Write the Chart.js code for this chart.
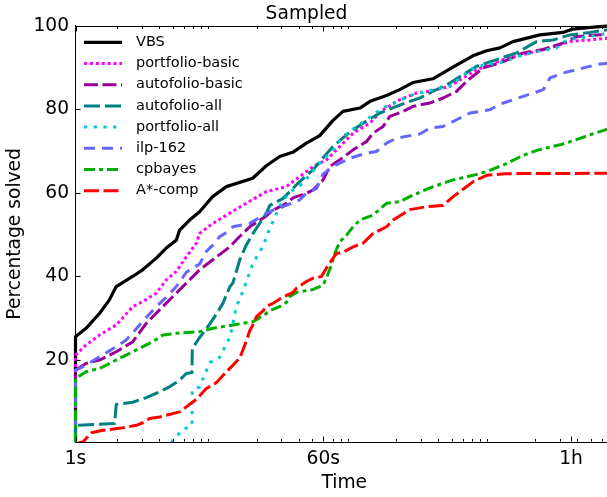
<!DOCTYPE html>
<html><head><meta charset="utf-8">
<script src="https://cdn.jsdelivr.net/npm/chart.js@4.4.1/dist/chart.umd.min.js"></script>
<style>
html,body{margin:0;padding:0;background:#fff;overflow:hidden;}
#wrap{width:613px;height:497px;position:relative;}
</style></head><body>
<div id="wrap"><canvas id="c" width="613" height="497"></canvas></div>
<script>
// ---- data (time in seconds, percentage solved) ----
const seriesNames = ['VBS','portfolio-basic','autofolio-basic','autofolio-all','portfolio-all','ilp-162','cpbayes','A*-comp'];

const vbsTime = [1,1,1.19,1.49,1.75,1.96,2.57,3.03,3.8,4.48,5.29,5.59,6.59,7.78,9.64,12.1,18.7,23.4,29.2,36.2,45.4,56.6,70.2,83,110,130,170.6,212,264,367,511,711,892,1112,1378,2154,3152,3700,5500,7200];
const vbsPct  = [0,25.6,27.6,31.2,34.4,37.6,40,41.6,44.4,46.8,48.7,51.1,53.5,55.5,59.1,61.5,63.5,66.5,68.7,69.7,71.9,73.7,77.3,79.5,80.3,81.9,83.3,84.7,86.4,87.3,90.1,92.8,94.0,94.7,96.2,97.8,98.4,99.2,99.7,100];

const pbTime = [1,1,1.19,1.49,1.96,2.58,3.04,3.8,4.48,5.29,6.24,7.37,7.78,9.67,12.7,16.8,23.4,32.6,40.6,50.7,63.2,78.8,98.2,129.4,161.3,212.6,280.3,349,486,756,1174,1635,2542,3539,4927,6494,7200];
const pbPct  = [0,21.2,23.6,26,28.4,32.8,34,36,39.2,41.2,44.7,48,50.3,52.7,55.1,57.5,60.3,61.5,63.9,66.3,67.9,71.1,74.3,76.7,79.9,82.3,83.9,84.3,85.5,89.5,91.9,93.1,94.7,96.2,96.6,97.0,97.0];

const abTime = [1,1,1.19,1.49,1.96,2.58,3.22,4.01,5,6.24,7.78,9.67,12.8,15,17.8,23.4,26.2,32.6,36.4,45.4,50.7,59.8,66.8,78.8,98.2,122.6,136.7,161.3,180.2,224.5,264.9,349,435,543,641,843,1174,1635,2275,3168,3954,5505,7200];
const abPct  = [0,17.6,19.2,20,22,24.4,28.8,32,35.2,38.4,41.6,44,47.1,49.5,51.9,54.5,55.9,57.5,58.8,59.9,60.7,63.1,66.3,67.9,70.3,72.3,74.3,75.9,78.3,79.5,80.7,81.5,82.7,84.3,86.7,89.9,91.4,93.5,94.3,95.9,97.4,97.8,98.0];

const aaTime = [1,1,1.91,1.96,2.57,3.22,4.01,4.73,5.59,6.24,6.85,6.89,7.78,9.18,10.25,11.4,12.8,13.5,15.1,16.8,18.8,23.4,24.8,30.9,40.6,50.7,56.6,70.5,88.1,115.9,152.8,201.3,250.8,296,349,486,606,756,1053,1465,2040,2685,3539,4927,6494,7200];
const aaPct  = [0,4.4,4.8,9.4,9.9,11,12.4,13.6,15.2,16.8,17,22.8,25.4,28.6,31,33.5,37.5,38.5,44,47.5,50.3,55.1,57,58.7,62.7,65.5,67.5,71.1,73.9,76.7,79.1,80.7,81.9,82.7,83.9,86.3,88.3,90.3,91.9,93.5,96.2,96.6,97.8,98.4,99.0,99.0];

const paTime = [1,4.9,5.0,5.9,6.78,6.85,6.89,7.78,9.18,10.8,12.8,13.5,14.3,15.9,18.8,22.2,24.8,27.7,30.9,36.4,42.9,53.6,70.5,83.2,103.9,122.6,152.8,201.3,264.9,349,486,641,756,1201,1465,2040,2841,3351,4927,6494,7200];
const paPct  = [0,0,0.8,3.4,4.2,4.4,12.8,13.6,19.4,20.6,25.4,28.8,32.8,36.5,43.2,47.3,51.5,55.1,58.3,60.7,62.3,66.3,70.3,73.5,75.9,77.5,79.9,81.9,83.5,84.5,85.5,88.7,90.3,91.4,92.6,93.8,94.7,96.6,97.4,98.2,98.3];

const ilTime = [1,1,1.19,1.49,1.96,2.31,2.73,3.22,3.8,4.48,5.29,6.24,7.78,8.69,9.67,10.8,12.1,13.5,17.8,23.4,26.2,30.9,40.6,45.4,53.6,59.8,70.5,78.8,93,122.6,144.6,170.6,201.3,250.8,296,349,435,543,677,942,1174,1635,2275,2542,3168,3954,5505,7200];
const ilPct  = [0,17.6,18.8,20.8,23.2,24.8,27.5,30.2,32.8,35,37.6,41,43,46,47.5,49.5,50.5,51.9,52.7,55.1,55.9,56.7,58.3,60,61,64.5,66.3,67.1,68.3,69.5,69.9,71.9,73.1,73.7,74.1,75.5,75.9,77.5,79.1,79.9,81.5,83.1,84.7,87.5,88.7,89.5,90.7,91.2];

const cpTime = [1,1,1.19,1.49,1.85,2.31,3.04,3.59,4.24,5.29,7.78,9.67,13.5,18.8,22.2,24.8,29.2,32.6,34.5,38.5,50.7,56.6,59.8,63.2,68.7,72.5,78.8,88.1,98.2,109.7,136.7,170.6,212.6,264.9,368.7,513,715,892,1201,1635,2154,3000,3737,4927,6494,7200];
const cpPct  = [0,15.6,17.2,18,19.6,21.2,23.2,24.4,26,26.4,26.8,27.6,28.4,29.2,30.6,31.8,32.8,33.8,35.2,36.2,36.9,37.6,38,39.6,42.8,45.5,48.3,49.9,51.9,53.5,54.7,57.5,57.9,59.5,61.5,63.1,64.2,65.1,66.8,69,70.4,71.5,72.5,73.9,75.2,75.3];

const acTime = [1,1.13,1.3,1.57,2.19,2.73,3.04,3.4,4.01,4.48,5.59,6.24,7.37,8.69,10.25,12.1,13.5,15.1,15.9,16.8,17.8,18.8,19.9,22.2,23.4,26.2,30.9,36.4,38.5,45.4,50.7,58.2,63.2,70.5,74.6,83.2,98.2,115.9,136.7,152.8,170.6,190.3,250.8,330.7,435,513,574,715,892,1201,7200];
const acPct  = [0,0.4,2.6,3.2,3.8,4.4,5,6,6.4,6.8,7.6,8.8,10.6,13.2,14.6,17.2,18.8,20.5,22.4,24.5,27,28.5,30.4,31.8,32.8,33.6,35.1,36.2,37.2,38.8,39.6,40,42,44.4,45.5,45.8,47.1,48,50.3,51.1,51.9,53.5,56,56.7,57,59.1,60.3,62.7,64.2,64.6,64.7];

// ---- axis ticks ----
const xTickValues = [1, 60, 3600];
const xTickLabels = ['1s', '60s', '1h'];
const xMinorTicks = [2,3,4,5,6,7,8,9,20,30,40,50,70,80,90,200,300,400,500,600,700,800,900,2000,3000,4000,5000,6000,7000];
const yTickValues = [20, 40, 60, 80, 100];

// ---- styles ----
const seriesTimes = [vbsTime, pbTime, abTime, aaTime, paTime, ilTime, cpTime, acTime];
const seriesPcts  = [vbsPct, pbPct, abPct, aaPct, paPct, ilPct, cpPct, acPct];
const colors = ['#000000','#ff00ff','#990099','#008080','#00cccc','#6666ff','#00b000','#ff0000'];
const dashes = [[], [3,2.9], [14,4.5], [16,5], [3.2,6.5], [11,7], [11,4,4,4], [15,4.5]];
const widths = [3.2, 3, 3, 3, 3, 3, 3, 3];

const FONT = 'DejaVu Sans';
Chart.defaults.font.family = FONT;
Chart.defaults.color = '#000';

const datasets = seriesNames.map((name, i) => ({
  label: name,
  data: seriesTimes[i].map((t, k) => ({x: t, y: seriesPcts[i][k]})),
  borderColor: colors[i],
  backgroundColor: colors[i],
  borderWidth: widths[i],
  borderDash: dashes[i],
  borderCapStyle: 'butt',
  borderJoinStyle: 'round',
  pointRadius: 0,
  tension: 0,
  fill: false,
  order: -i,
  clip: {left: 3, top: 3, right: 3, bottom: 0}
}));

const decor = {
  id: 'decor',
  afterDatasetsDraw(chart) {
    const {ctx, chartArea: a, scales: {x, y}} = chart;
    ctx.save();
    ctx.strokeStyle = '#000';
    ctx.lineWidth = 1;
    ctx.setLineDash([]);
    const top = Math.round(a.top) + 0.5;
    const bot = Math.round(a.bottom) - 0.5;
    const left = Math.round(a.left) - 0.5;
    // top spine
    ctx.beginPath();
    ctx.moveTo(a.left, top); ctx.lineTo(a.right, top);
    ctx.stroke();
    ctx.beginPath();
    const vtick = (v, len) => {
      const px = Math.round(x.getPixelForValue(v)) + 0.5;
      ctx.moveTo(px, bot); ctx.lineTo(px, bot - len);
      ctx.moveTo(px, top); ctx.lineTo(px, top + len);
    };
    xMinorTicks.forEach(v => vtick(v, 2.5));
    xTickValues.forEach(v => vtick(v, 5));
    yTickValues.forEach(v => {
      const py = Math.round(y.getPixelForValue(v)) + 0.5;
      ctx.moveTo(left, py); ctx.lineTo(left + 5, py);
    });
    ctx.stroke();
    ctx.restore();
  },
  afterDraw(chart) {
    const {ctx, chartArea: a} = chart;
    ctx.save();
    chart.data.datasets.forEach((ds, i) => {
      const yy = a.top + 16.6 + i * 21.2;
      ctx.beginPath();
      ctx.setLineDash(ds.borderDash);
      ctx.lineWidth = ds.borderWidth;
      ctx.lineCap = 'butt';
      ctx.strokeStyle = ds.borderColor;
      ctx.moveTo(a.left + 8.5, yy);
      ctx.lineTo(a.left + 46.5, yy);
      ctx.stroke();
      ctx.setLineDash([]);
      ctx.fillStyle = '#000';
      ctx.font = '14.5px "' + FONT + '"';
      ctx.textBaseline = 'middle';
      ctx.textAlign = 'left';
      ctx.fillText(ds.label, a.left + 60.5, yy);
    });
    ctx.restore();
  }
};

new Chart(document.getElementById('c'), {
  type: 'line',
  data: {datasets},
  options: {
    responsive: false,
    animation: false,
    devicePixelRatio: 1,
    layout: {padding: 0},
    plugins: {
      legend: {display: false},
      tooltip: {enabled: false},
      title: {
        display: true,
        text: 'Sampled',
        color: '#000',
        font: {family: FONT, size: 18.67, weight: 'normal'},
        padding: {top: 2.8, bottom: 0.5}
      }
    },
    scales: {
      x: {
        type: 'logarithmic',
        position: 'bottom',
        min: 1,
        max: 7200,
        afterBuildTicks: (s) => { s.ticks = xTickValues.map(v => ({value: v, major: true})); },
        afterFit: (s) => { s.height = 55; },
        grid: {display: true, drawOnChartArea: false, drawTicks: false},
        border: {display: true, color: '#000', width: 1},
        ticks: {
          autoSkip: false, maxRotation: 0, minRotation: 0,
          padding: 6,
          font: {family: FONT, size: 18.67},
          color: '#000',
          callback: (v, i) => xTickLabels[i]
        },
        title: {display: true, text: 'Time', color: '#000', font: {family: FONT, size: 18.67}, padding: {top: 0, bottom: 2.3}}
      },
      y: {
        type: 'linear',
        min: 0.4,
        max: 100,
        afterBuildTicks: (s) => { s.ticks = yTickValues.map(v => ({value: v})); },
        afterFit: (s) => { s.width = 75.5; },
        grid: {display: true, drawOnChartArea: false, drawTicks: false},
        border: {display: true, color: '#000', width: 1},
        ticks: {
          padding: 6.5,
          font: {family: FONT, size: 18.67},
          color: '#000',
          callback: (v) => String(v)
        },
        title: {display: true, text: 'Percentage solved', color: '#000', font: {family: FONT, size: 18.67}, padding: {top: 4.2, bottom: 0}}
      }
    }
  },
  plugins: [decor]
});
</script>
</body></html>
